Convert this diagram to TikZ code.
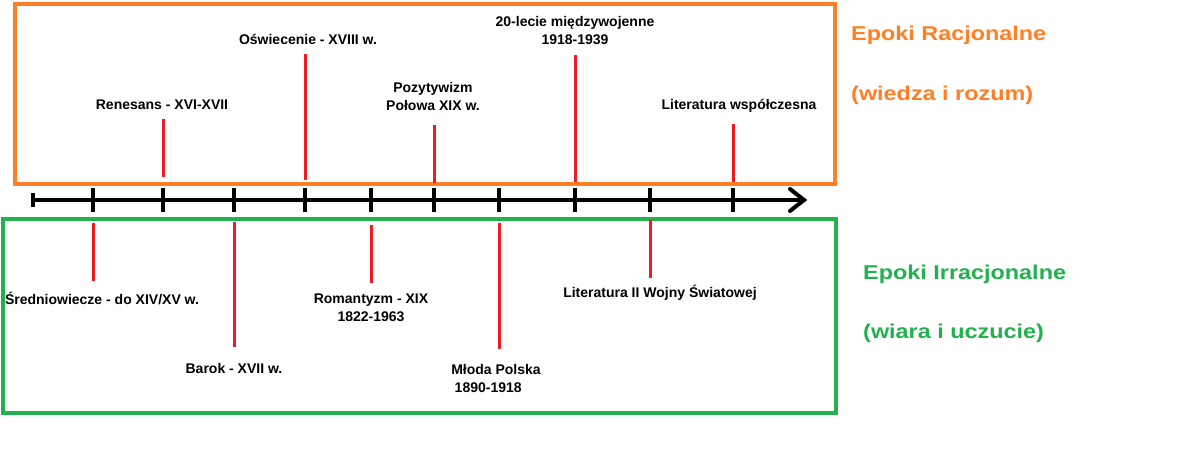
\documentclass[tikz,border=0pt]{standalone}
\usepackage{fontspec}
\setmainfont{Liberation Sans}
\definecolor{porange}{HTML}{FF7F27}
\definecolor{pgreen}{HTML}{22B14C}
\definecolor{pred}{HTML}{ED1C24}
\begin{document}
\begin{tikzpicture}[x=1pt,y=-1pt,
  lbl/.style={inner sep=0pt,align=center,font=\bfseries\fontsize{14}{18}\selectfont},
  big/.style={inner sep=0pt,anchor=west,font=\bfseries\fontsize{20}{24}\selectfont},
  redline/.style={draw=pred,line width=3pt},
  tickline/.style={draw=black,line width=3.5pt},
  axisline/.style={draw=black,line width=4pt,line cap=round}]
\useasboundingbox (0,0) rectangle (1200,450);
\fill[white] (0,0) rectangle (1200,450);
% boxes
\draw[porange,line width=4pt] (15,4) rectangle (835,184);
\draw[pgreen,line width=4pt] (3,219) rectangle (836,413);
% axis
\coordinate (a0) at (33,200);
\coordinate (a1) at (804,200);
\coordinate (h1) at (790,189);
\coordinate (h2) at (790,211);
\draw[axisline] (a0) -- (a1);
\draw[axisline,line join=miter] (h1) -- (a1) -- (h2);
\coordinate (c1) at (33,193);
\coordinate (c2) at (33,207);
\draw[tickline] (c1) -- (c2);
\foreach \x in {93,163,234,305,371,434,499,575,650,733}{
  \draw[tickline] (\x,188) -- (\x,212);
}
% upper epochs
\node[lbl] (ren) at (162,105) {Renesans - XVI-XVII};
\node[lbl] (osw) at (308,39) {Oświecenie - XVIII w.};
\node[lbl] (poz) at (433,96) {Pozytywizm\\Połowa XIX w.};
\node[lbl] (mie) at (575,31) {20-lecie międzywojenne\\1918-1939};
\node[lbl] (wsp) at (739,106) {Literatura współczesna};
\draw[redline] (163,119) -- (163,177);
\draw[redline] (305,54) -- (305,180);
\draw[redline] (434,125) -- (434,183);
\draw[redline] (575,55) -- (575,182);
\draw[redline] (733,124) -- (733,182);
% lower epochs
\node[lbl] (sre) at (102,298) {Średniowiecze - do XIV/XV w.};
\node[lbl] (bar) at (234,368) {Barok - XVII w.};
\node[lbl] (rom) at (371,308) {Romantyzm - XIX\\1822-1963};
\node[lbl] (mlo) at (496,378) {Młoda Polska\\\phantom{x}1890-1918\phantom{xxx}};
\node[lbl] (wwii) at (660,293) {Literatura II Wojny Światowej};
\draw[redline] (93,223) -- (93,281);
\draw[redline] (234,222) -- (234,347);
\draw[redline] (371,225) -- (371,283);
\draw[redline] (499,223) -- (499,349);
\draw[redline] (650,220) -- (650,278);
% side labels
\node[big,text=porange] (rac) at (851,35) {\scalebox{1.17}[1]{Epoki Racjonalne}};
\node[big,text=porange] (rac2) at (851,95) {\scalebox{1.17}[1]{(wiedza i rozum)}};
\node[big,text=pgreen] (irr) at (863,274) {\scalebox{1.17}[1]{Epoki Irracjonalne}};
\node[big,text=pgreen] (irr2) at (863,333) {\scalebox{1.17}[1]{(wiara i uczucie)}};
\end{tikzpicture}
\end{document}
